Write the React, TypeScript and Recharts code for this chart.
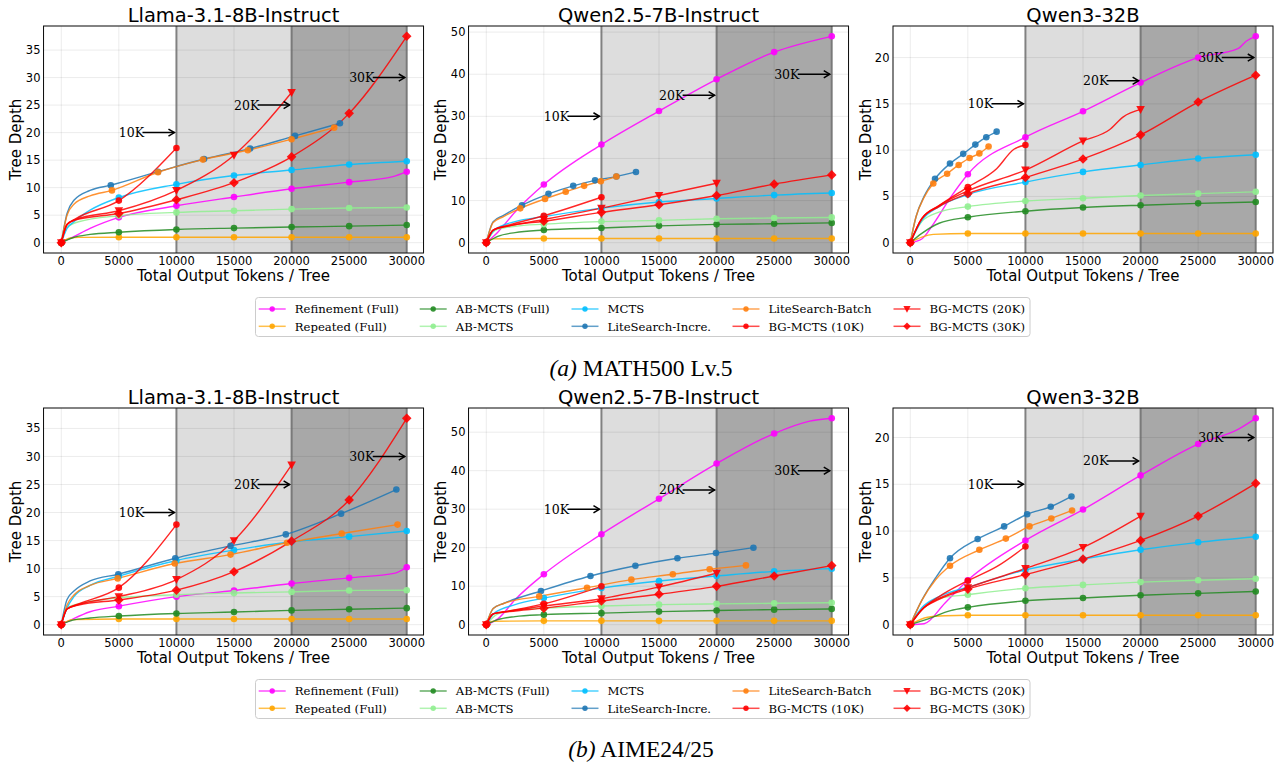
import React from 'react';
import {
  ComposedChart,
  Line,
  XAxis,
  YAxis,
  CartesianGrid,
  ReferenceArea,
  ReferenceLine,
  ReferenceDot,
} from 'recharts';

// ---------- labels & styles ----------
const SERIES_NAMES = [
  'Refinement (Full)',
  'Repeated (Full)',
  'AB-MCTS (Full)',
  'AB-MCTS',
  'MCTS',
  'LiteSearch-Incre.',
  'LiteSearch-Batch',
  'BG-MCTS (10K)',
  'BG-MCTS (20K)',
  'BG-MCTS (30K)',
];
const SERIES_COLORS = ['#ff00ff', '#ffa500', '#228b22', '#90ee90', '#00bfff', '#1f77b4', '#ff7f0e', '#ff0000', '#ff0000', '#ff0000'];
const SERIES_MARKERS = ['o', 'o', 'o', 'o', 'o', 'o', 'o', 'o', 'v', 'D'];

const MODEL_TITLES = ['Llama-3.1-8B-Instruct', 'Qwen2.5-7B-Instruct', 'Qwen3-32B'];
const X_TICKS = [0, 5000, 10000, 15000, 20000, 25000, 30000];
const X_DOMAIN: [number, number] = [-1500, 31500];
const BUDGET_LABELS = ['10K', '20K', '30K'];
const BUDGET_TEXT_X = [5000, 15000, 25000];
const BUDGET_TIP_X = [9830, 19830, 29830];
const BUDGET_LINES = [10000, 20000, 30000];

const Y_TICKS_ROW = [
  [0, 5, 10, 15, 20, 25, 30, 35],
  [0, 10, 20, 30, 40, 50],
  [0, 5, 10, 15, 20],
];
const ARROW_Y_ROW = [
  [20, 25, 30],
  [30, 35, 40],
  [15, 17.5, 20],
];

// ---------- data: [x, y] marker point, [x, y, 0] curve point without marker ----------
const MATH_LLAMA: number[][][] = [
  [[0, 0], [1000, 1.0, 0], [2500, 2.6, 0], [5000, 4.6], [10000, 6.7], [15000, 8.3], [20000, 9.8], [25000, 11.0], [28800, 12.0, 0], [30000, 12.9]],
  [[0, 0], [700, 0.8, 0], [1500, 0.97, 0], [5000, 1.0], [10000, 1.0], [15000, 1.0], [20000, 1.0], [25000, 1.0], [30000, 1.0]],
  [[0, 0], [1000, 0.9, 0], [2500, 1.5, 0], [5000, 1.9], [10000, 2.4], [15000, 2.65], [20000, 2.85], [25000, 3.0], [30000, 3.2]],
  [[0, 0], [500, 2.8, 0], [1500, 3.8, 0], [5000, 4.9], [10000, 5.5], [15000, 5.8], [20000, 6.1], [25000, 6.3], [30000, 6.4]],
  [[0, 0], [500, 2.6, 0], [1100, 3.8, 0], [2500, 5.9, 0], [5000, 8.2], [10000, 10.6], [15000, 12.2], [20000, 13.2], [25000, 14.2], [30000, 14.8]],
  [[0, 0], [500, 5.3, 0], [1100, 7.7, 0], [2500, 9.5, 0], [4300, 10.45], [8400, 12.9], [12400, 15.2], [16400, 17.1], [20300, 19.4], [24200, 21.7]],
  [[0, 0], [500, 5.0, 0], [1100, 7.0, 0], [2500, 8.5, 0], [4400, 9.5], [8400, 12.8], [12300, 15.1], [16200, 16.8], [20000, 18.8], [23700, 20.9]],
  [[0, 0], [500, 3.3, 0], [1200, 4.3, 0], [5000, 7.65], [10000, 17.2]],
  [[0, 0], [500, 3.3, 0], [1200, 4.2, 0], [5000, 5.8], [10000, 9.5], [15000, 15.9], [20000, 27.3]],
  [[0, 0], [500, 3.3, 0], [1200, 4.1, 0], [5000, 5.3], [10000, 7.8], [15000, 10.9], [20000, 15.6], [25000, 23.5], [30000, 37.5]],
];

const MATH_QWEN25: number[][][] = [
  [[0, 0], [1000, 2.5, 0], [2500, 7.3, 0], [5000, 13.8], [10000, 23.3], [15000, 31.25], [20000, 38.8], [25000, 45.25], [30000, 49.0]],
  [[0, 0], [600, 0.9, 0], [5000, 1.0], [10000, 1.0], [15000, 1.0], [20000, 1.0], [25000, 1.0], [30000, 1.0]],
  [[0, 0], [1000, 1.5, 0], [2500, 2.4, 0], [5000, 3.0], [10000, 3.5], [15000, 4.0], [20000, 4.35], [25000, 4.5], [30000, 4.7]],
  [[0, 0], [800, 3.0, 0], [2500, 3.9, 0], [5000, 4.4], [10000, 5.0], [15000, 5.3], [20000, 5.7], [25000, 5.85], [30000, 6.0]],
  [[0, 0], [700, 3.0, 0], [2500, 5.0, 0], [5000, 6.2], [10000, 8.2], [15000, 9.65], [20000, 10.5], [25000, 11.3], [30000, 11.8]],
  [[0, 0], [600, 5.0, 0], [1500, 6.5, 0], [3100, 8.9], [5400, 11.6], [7550, 13.5], [9450, 14.8], [11300, 15.7], [13000, 16.8]],
  [[0, 0], [600, 4.8, 0], [1500, 6.2, 0], [2950, 8.15], [5100, 10.4], [6900, 12.1], [8500, 13.5], [9950, 14.6], [11300, 15.7]],
  [[0, 0], [600, 3.0, 0], [2000, 4.2, 0], [5000, 6.4], [10000, 10.8]],
  [[0, 0], [600, 3.0, 0], [2000, 4.0, 0], [5000, 5.5], [10000, 8.2], [15000, 11.2], [20000, 14.1]],
  [[0, 0], [600, 3.0, 0], [2000, 4.0, 0], [5000, 5.1], [10000, 7.2], [15000, 9.0], [20000, 11.2], [25000, 13.9], [30000, 16.1]],
];

const MATH_QWEN3: number[][][] = [
  [[0, 0], [1000, 0.4, 0], [2000, 2.0, 0], [3500, 4.9, 0], [5000, 7.4], [10000, 11.4], [15000, 14.2], [20000, 17.3], [25000, 20.0], [28500, 21.0, 0], [29200, 21.8, 0], [30000, 22.3]],
  [[0, 0], [1000, 0.6, 0], [2000, 0.9, 0], [5000, 1.0], [10000, 1.0], [15000, 1.0], [20000, 1.0], [25000, 1.0], [30000, 1.0]],
  [[0, 0], [1000, 1.0, 0], [2500, 2.1, 0], [5000, 2.75], [10000, 3.4], [15000, 3.8], [20000, 4.05], [25000, 4.25], [30000, 4.4]],
  [[0, 0], [1000, 2.3, 0], [2500, 3.3, 0], [5000, 3.9], [10000, 4.5], [15000, 4.8], [20000, 5.1], [25000, 5.3], [30000, 5.5]],
  [[0, 0], [1000, 2.4, 0], [2500, 3.9, 0], [5000, 5.2], [10000, 6.55], [15000, 7.65], [20000, 8.4], [25000, 9.1], [30000, 9.5]],
  [[0, 0], [500, 2.8, 0], [1200, 5.0, 0], [2150, 6.9], [3450, 8.55], [4600, 9.6], [5650, 10.6], [6600, 11.4], [7500, 12.0]],
  [[0, 0], [500, 2.8, 0], [1200, 4.9, 0], [2000, 6.4], [3200, 7.45], [4200, 8.4], [5150, 9.15], [6000, 9.65], [6800, 10.4]],
  [[0, 0], [1000, 2.6, 0], [2500, 4.0, 0], [5000, 6.0], [7500, 8.0, 0], [9000, 10.1, 0], [10000, 10.55]],
  [[0, 0], [1000, 2.6, 0], [2500, 4.0, 0], [5000, 5.6], [10000, 7.85], [15000, 11.0], [17300, 12.2, 0], [18500, 13.6, 0], [20000, 14.4]],
  [[0, 0], [1000, 2.6, 0], [2500, 3.9, 0], [5000, 5.3], [10000, 7.05], [15000, 9.05], [20000, 11.65], [25000, 15.2], [30000, 18.1]],
];

const AIME_LLAMA: number[][][] = [
  [[0, 0], [1000, 1.0, 0], [2500, 2.3, 0], [5000, 3.3], [10000, 5.0], [15000, 6.1], [20000, 7.35], [25000, 8.35], [29000, 9.2, 0], [30000, 10.25]],
  [[0, 0], [1000, 0.9, 0], [5000, 1.0], [10000, 1.0], [15000, 1.0], [20000, 1.0], [25000, 1.0], [30000, 1.0]],
  [[0, 0], [1000, 0.8, 0], [2500, 1.2, 0], [5000, 1.55], [10000, 2.0], [15000, 2.25], [20000, 2.55], [25000, 2.75], [30000, 2.95]],
  [[0, 0], [500, 3.0, 0], [1500, 3.7, 0], [5000, 4.8], [10000, 5.35], [15000, 5.65], [20000, 5.85], [25000, 6.1], [30000, 6.15]],
  [[0, 0], [500, 3.0, 0], [1100, 5.0, 0], [2500, 7.0, 0], [5000, 8.65], [10000, 11.45], [15000, 13.3], [20000, 14.8], [25000, 15.7], [30000, 16.7]],
  [[0, 0], [500, 4.5, 0], [1100, 6.0, 0], [2500, 7.8, 0], [4950, 9.0], [9900, 11.85], [14700, 14.05], [19500, 16.1], [24300, 19.8], [29100, 24.1]],
  [[0, 0], [500, 3.5, 0], [1100, 5.3, 0], [2500, 7.0, 0], [4900, 8.25], [9850, 10.9], [14700, 12.5], [19600, 14.6], [24350, 16.25], [29200, 17.85]],
  [[0, 0], [500, 2.8, 0], [1500, 3.7, 0], [5000, 6.6], [10000, 17.85]],
  [[0, 0], [500, 2.8, 0], [1500, 3.6, 0], [5000, 5.0], [10000, 8.05], [15000, 15.0], [20000, 28.5]],
  [[0, 0], [500, 2.8, 0], [1500, 3.5, 0], [5000, 4.4], [10000, 6.15], [15000, 9.45], [20000, 14.9], [25000, 22.25], [30000, 36.8]],
];

const AIME_QWEN25: number[][][] = [
  [[0, 0], [1000, 1.5, 0], [2500, 6.5, 0], [5000, 13.1], [10000, 23.5], [15000, 32.7], [20000, 41.85], [25000, 49.65], [28000, 52.8, 0], [30000, 53.6]],
  [[0, 0], [600, 0.9, 0], [5000, 1.0], [10000, 1.0], [15000, 1.0], [20000, 1.0], [25000, 1.0], [30000, 1.0]],
  [[0, 0], [1000, 1.3, 0], [2500, 2.1, 0], [5000, 2.6], [10000, 3.0], [15000, 3.4], [20000, 3.7], [25000, 3.9], [30000, 4.1]],
  [[0, 0], [1000, 2.8, 0], [2500, 3.8, 0], [5000, 4.3], [10000, 4.85], [15000, 5.2], [20000, 5.4], [25000, 5.55], [30000, 5.7]],
  [[0, 0], [700, 3.0, 0], [2500, 5.2, 0], [5000, 6.9], [10000, 9.5], [15000, 11.35], [20000, 12.65], [25000, 13.85], [30000, 14.55]],
  [[0, 0], [600, 4.2, 0], [1500, 5.5, 0], [4750, 8.75], [9050, 12.65], [12950, 15.3], [16600, 17.25], [19950, 18.6], [23200, 20.0]],
  [[0, 0], [600, 4.2, 0], [1500, 5.5, 0], [4600, 7.35], [8750, 9.6], [12600, 11.7], [16200, 13.1], [19400, 14.4], [22550, 15.4]],
  [[0, 0], [600, 2.8, 0], [2000, 3.6, 0], [5000, 5.4], [10000, 9.95]],
  [[0, 0], [600, 2.8, 0], [2000, 3.5, 0], [5000, 4.85], [10000, 6.75], [15000, 9.8], [20000, 13.35]],
  [[0, 0], [600, 2.8, 0], [2000, 3.4, 0], [5000, 4.3], [10000, 6.15], [15000, 7.9], [20000, 9.95], [25000, 12.65], [30000, 15.35]],
];

const AIME_QWEN3: number[][][] = [
  [[0, 0], [1200, 0.1, 0], [3000, 2.3, 0], [5000, 4.75], [10000, 9.0], [15000, 12.3], [20000, 15.95], [25000, 19.3], [28500, 20.9, 0], [30000, 22.05]],
  [[0, 0], [1500, 0.8, 0], [3000, 0.95, 0], [5000, 1.0], [10000, 1.0], [15000, 1.0], [20000, 1.0], [25000, 1.0], [30000, 1.0]],
  [[0, 0], [1500, 0.6, 0], [3500, 1.5, 0], [5000, 1.85], [10000, 2.55], [15000, 2.85], [20000, 3.15], [25000, 3.35], [30000, 3.55]],
  [[0, 0], [1000, 1.6, 0], [2500, 2.8, 0], [5000, 3.2], [10000, 3.9], [15000, 4.25], [20000, 4.55], [25000, 4.75], [30000, 4.9]],
  [[0, 0], [1000, 1.8, 0], [2500, 3.0, 0], [5000, 4.0], [10000, 5.85], [15000, 7.0], [20000, 8.0], [25000, 8.8], [30000, 9.4]],
  [[0, 0], [1000, 2.6, 0], [2200, 5.0, 0], [3450, 7.1], [5850, 9.15], [8150, 10.5], [10150, 11.8], [12200, 12.6], [14000, 13.7]],
  [[0, 0], [1000, 2.6, 0], [2200, 4.8, 0], [3450, 6.3], [6000, 8.0], [8300, 9.2], [10350, 10.5], [12250, 11.35], [14050, 12.2]],
  [[0, 0], [1000, 1.6, 0], [2500, 3.0, 0], [5000, 4.7], [7500, 6.2, 0], [10000, 8.35]],
  [[0, 0], [1000, 1.6, 0], [2500, 2.8, 0], [5000, 3.95], [10000, 6.0], [15000, 8.25], [20000, 11.6]],
  [[0, 0], [1000, 1.6, 0], [2500, 2.7, 0], [5000, 3.8], [10000, 5.35], [15000, 7.0], [20000, 9.0], [25000, 11.6], [30000, 15.1]],
];

const ROWS = [
  { panels: [MATH_LLAMA, MATH_QWEN25, MATH_QWEN3], caption: 'MATH500 Lv.5', tag: '(a)' },
  { panels: [AIME_LLAMA, AIME_QWEN25, AIME_QWEN3], caption: 'AIME24/25', tag: '(b)' },
];

// ---------- layout ----------
const PLOT_W = 380;
const PLOT_H = 227;
const YW = 40;
const XH = 30;
const MT = 2;
const MR = 2;
const PANEL_LEFT = [43.5, 468.5, 893];
const ROW_TOP = [26, 408];
const ROW_SHIFT = 382;

const LEGEND_TEXT_X = [294.7, 455.7, 607.5, 768.5, 929.5];

function Marker({ cx, cy, kind, color, legend }: any) {
  if (cx == null || cy == null) return null;
  if (kind === 'v') {
    const s = legend ? 3.6 : 4.3;
    return <polygon points={`${cx - s},${cy - s * 0.8} ${cx + s},${cy - s * 0.8} ${cx},${cy + s * 1.05}`} fill={color} fillOpacity={0.9} />;
  }
  if (kind === 'D') {
    const s = legend ? 3.8 : 4.8;
    return <polygon points={`${cx},${cy - s} ${cx + s},${cy} ${cx},${cy + s} ${cx - s},${cy}`} fill={color} fillOpacity={0.9} />;
  }
  return <circle cx={cx} cy={cy} r={legend ? 2.7 : 3.3} fill={color} fillOpacity={0.9} />;
}

function Panel({ left, top, series, yTicks, arrowY }: any) {
  const yMax = Math.max(...series.flat().map((p: number[]) => p[1]));
  const dom: [number, number] = [-0.05 * yMax, 1.05 * yMax];
  const tickStyle = { fontSize: 11.5, fill: '#000', fontFamily: 'DejaVu Sans' };
  return (
    <div style={{ position: 'absolute', left: left - YW, top: top - MT }}>
      <ComposedChart width={YW + PLOT_W + MR} height={MT + PLOT_H + XH} margin={{ top: MT, right: MR, bottom: 0, left: 0 }}>
        <ReferenceArea x1={10000} x2={20000} fill="#000" fillOpacity={0.135} stroke="none" ifOverflow="hidden" />
        <ReferenceArea x1={20000} x2={30000} fill="#000" fillOpacity={0.34} stroke="none" ifOverflow="hidden" />
        <CartesianGrid stroke="#000" strokeOpacity={0.08} />
        {BUDGET_LINES.map((x) => (
          <ReferenceLine key={'v' + x} x={x} stroke="#6a6a6a" strokeOpacity={0.8} strokeWidth={2} />
        ))}
        <XAxis
          type="number"
          dataKey="x"
          domain={X_DOMAIN}
          ticks={X_TICKS}
          interval={0}
          allowDataOverflow
          height={XH}
          tickLine={false}
          axisLine={false}
          tickSize={2}
          tickMargin={1.5}
          tick={tickStyle}
        />
        <YAxis
          type="number"
          domain={dom}
          ticks={yTicks}
          interval={0}
          allowDataOverflow
          width={YW}
          tickLine={false}
          axisLine={false}
          tickSize={2}
          tickMargin={1.5}
          tick={tickStyle}
        />
        {series.map((s: number[][], i: number) => {
          const data = s.map((p) => ({ x: p[0], y: p[1], m: p.length < 3 ? 1 : p[2] }));
          return (
            <Line
              key={'s' + i}
              data={data}
              dataKey="y"
              type="monotone"
              stroke={SERIES_COLORS[i]}
              strokeOpacity={0.85}
              strokeWidth={1.4}
              isAnimationActive={false}
              activeDot={false}
              legendType="none"
              dot={(props: any) =>
                props.payload && props.payload.m ? (
                  <Marker key={`d${i}-${props.index}`} cx={props.cx} cy={props.cy} kind={SERIES_MARKERS[i]} color={SERIES_COLORS[i]} />
                ) : (
                  <g key={`d${i}-${props.index}`} />
                )
              }
            />
          );
        })}
        {BUDGET_LABELS.map((lab, k) => (
          <ReferenceLine
            key={'al' + k}
            segment={[
              { x: BUDGET_TEXT_X[k] + 2050, y: arrowY[k] },
              { x: BUDGET_TIP_X[k], y: arrowY[k] },
            ]}
            stroke="#000"
            strokeWidth={1.5}
          />
        ))}
        {BUDGET_LABELS.map((lab, k) => (
          <ReferenceDot
            key={'at' + k}
            x={BUDGET_TEXT_X[k]}
            y={arrowY[k]}
            shape={(p: any) => (
              <text x={p.cx} y={p.cy} dy="0.36em" fontFamily="DejaVu Serif" fontSize={12.5} fill="#000">
                {lab}
              </text>
            )}
          />
        ))}
        {BUDGET_LABELS.map((lab, k) => (
          <ReferenceDot
            key={'ah' + k}
            x={BUDGET_TIP_X[k]}
            y={arrowY[k]}
            shape={(p: any) => (
              <path d={`M${p.cx - 6},${p.cy - 3.6} L${p.cx},${p.cy} L${p.cx - 6},${p.cy + 3.6}`} fill="none" stroke="#000" strokeWidth={1.5} />
            )}
          />
        ))}
      </ComposedChart>
    </div>
  );
}

function LegendBox({ dy }: { dy: number }) {
  const items: React.ReactNode[] = [];
  for (let i = 0; i < SERIES_NAMES.length; i++) {
    const col = Math.floor(i / 2);
    const row = i % 2;
    const tx = LEGEND_TEXT_X[col];
    const cy = 309 + row * 17.3 + dy;
    items.push(
      <g key={'lg' + i}>
        <line x1={tx - 36} x2={tx - 9} y1={cy} y2={cy} stroke={SERIES_COLORS[i]} strokeOpacity={0.7} strokeWidth={1.5} />
        <Marker cx={tx - 22.5} cy={cy} kind={SERIES_MARKERS[i]} color={SERIES_COLORS[i]} legend />
        <text x={tx} y={cy} dy="0.36em" fontFamily="DejaVu Serif" fontSize={11.7} fill="#000">
          {SERIES_NAMES[i]}
        </text>
      </g>
    );
  }
  return (
    <g>
      <rect x={255.5} y={297.5 + dy} width={774.5} height={39} rx={3} fill="#fff" stroke="#cccccc" strokeWidth={1} />
      {items}
    </g>
  );
}

export default function App() {
  return (
    <div style={{ position: 'absolute', left: 0, top: 0, width: 1283, height: 766, background: '#fff', overflow: 'hidden' }}>
      {ROWS.map((row, r) =>
        row.panels.map((series, c) => (
          <Panel key={`p${r}-${c}`} left={PANEL_LEFT[c]} top={ROW_TOP[r]} series={series} yTicks={Y_TICKS_ROW[c]} arrowY={ARROW_Y_ROW[c]} />
        ))
      )}
      <svg width={1283} height={766} style={{ position: 'absolute', left: 0, top: 0, pointerEvents: 'none' }}>
        {ROWS.map((row, r) => (
          <g key={'ov' + r}>
            {MODEL_TITLES.map((t, c) => {
              const l = PANEL_LEFT[c];
              const tp = ROW_TOP[r];
              return (
                <g key={'t' + c}>
                  <rect x={l} y={tp} width={PLOT_W} height={PLOT_H} fill="none" stroke="#111" strokeWidth={1} />
                  <text x={l + PLOT_W / 2} y={tp - 4.3} textAnchor="middle" fontFamily="DejaVu Sans" fontSize={19.5} fill="#000">
                    {t}
                  </text>
                  <text x={l + PLOT_W / 2} y={tp + PLOT_H + 27.5} textAnchor="middle" fontFamily="DejaVu Sans" fontSize={15} fill="#000">
                    Total Output Tokens / Tree
                  </text>
                  <text
                    x={l - 22.4}
                    y={tp + PLOT_H / 2}
                    textAnchor="middle"
                    fontFamily="DejaVu Sans"
                    fontSize={15}
                    fill="#000"
                    transform={`rotate(-90 ${l - 22.4} ${tp + PLOT_H / 2})`}
                  >
                    Tree Depth
                  </text>
                </g>
              );
            })}
            <LegendBox dy={r * ROW_SHIFT} />
            <text x={641} y={376 + r * 381} textAnchor="middle" fontFamily="Liberation Serif" fontSize={23.5} fill="#000">
              <tspan fontStyle="italic">{row.tag}</tspan>
              {' ' + row.caption}
            </text>
          </g>
        ))}
      </svg>
    </div>
  );
}
